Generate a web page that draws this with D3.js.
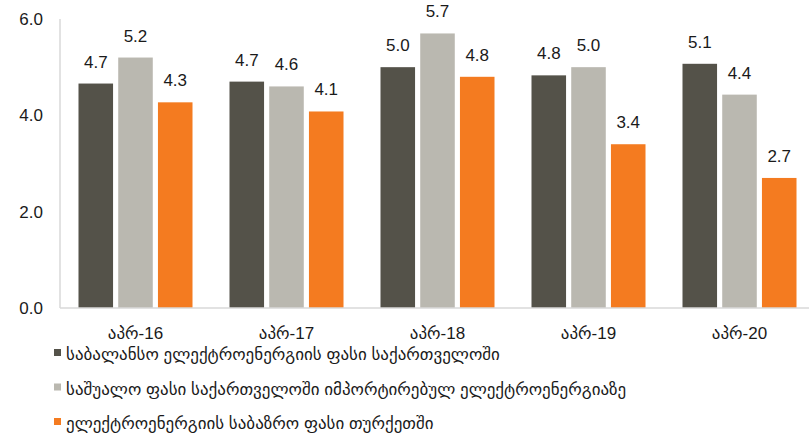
<!DOCTYPE html>
<html>
<head>
<meta charset="utf-8">
<script src="https://cdn.jsdelivr.net/npm/d3@7"></script>
<style>
  body { margin: 0; background: #fff; }
  svg text { font-family: "Liberation Sans", Arial, "DejaVu Sans", sans-serif; fill: #1a1a1a; }
</style>
</head>
<body>
<svg id="chart" width="809" height="441"></svg>
<script>
// data
var months = ["აპრ-16", "აპრ-17", "აპრ-18", "აპრ-19", "აპრ-20"];
var seriesNames = [
    "საბალანსო ელექტროენერგიის ფასი საქართველოში",
    "საშუალო ფასი საქართველოში იმპორტირებულ ელექტროენერგიაზე",
    "ელექტროენერგიის საბაზრო ფასი თურქეთში"
];
var balancePrice = [4.66, 4.7, 5.0, 4.83, 5.07];
var importPrice = [5.2, 4.6, 5.7, 5.0, 4.43];
var turkeyPrice = [4.27, 4.08, 4.8, 3.4, 2.7];
var yTicks = [0, 2, 4, 6];
var colors = ["#545249", "#bab8b0", "#f47b20"];

var svg = d3.select("#chart");
var plotLeft = 60, plotRight = 815, plotTop = 19, plotBottom = 308;

var x = d3.scaleBand().domain(months).range([plotLeft, plotRight]).paddingInner(0.245).paddingOuter(0.1225);
var x1 = d3.scaleBand().domain([0, 1, 2]).range([0, x.bandwidth()]).paddingInner(0.13);
var y = d3.scaleLinear().domain([0, 6]).range([plotBottom, plotTop]);

var series = [balancePrice, importPrice, turkeyPrice];

// y axis labels
svg.selectAll(".ytick").data(yTicks).enter().append("text")
    .attr("x", 43).attr("y", function(d){ return y(d) + 6; })
    .attr("text-anchor", "end").style("font-size", "17px")
    .text(function(d){ return d.toFixed(1); });

// axis lines
svg.append("line").attr("x1", plotLeft).attr("x2", plotLeft).attr("y1", plotTop).attr("y2", plotBottom)
    .attr("stroke", "#d9d9d9").attr("stroke-width", 1.5);

var groups = svg.selectAll(".grp").data(months).enter().append("g")
    .attr("transform", function(d){ return "translate(" + x(d) + ",0)"; });

function cells(d, i){ return series.map(function(s, k){ return {k: k, v: s[i]}; }); }

groups.selectAll("rect").data(cells).enter().append("rect")
    .attr("x", function(d){ return x1(d.k); })
    .attr("width", x1.bandwidth())
    .attr("y", function(d){ return y(d.v); })
    .attr("height", function(d){ return plotBottom - y(d.v); })
    .attr("fill", function(d){ return colors[d.k]; });

groups.selectAll(".lbl").data(cells).enter().append("text")
    .attr("x", function(d){ return x1(d.k) + x1.bandwidth() / 2; })
    .attr("y", function(d){ return y(d.v) - 16; })
    .attr("text-anchor", "middle").style("font-size", "17px")
    .text(function(d){ return d.v.toFixed(1); });

svg.append("line").attr("x1", plotLeft).attr("x2", 809).attr("y1", plotBottom).attr("y2", plotBottom)
    .attr("stroke", "#d9d9d9").attr("stroke-width", 1.5);

// x labels
svg.selectAll(".xl").data(months).enter().append("text")
    .attr("x", function(d){ return x(d) + x.bandwidth() / 2; })
    .attr("y", 339).attr("text-anchor", "middle").style("font-size", "17px")
    .text(function(d){ return d; });

// legend
var leg = svg.selectAll(".leg").data(seriesNames).enter().append("g")
    .attr("transform", function(d, i){ return "translate(54," + (360 + i * 34.5) + ")"; });
leg.append("rect").attr("x", 0).attr("y", -11).attr("width", 7).attr("height", 7)
    .attr("fill", function(d, i){ return colors[i]; });
leg.append("text").attr("x", 12).attr("y", 0).style("font-size", "17px")
    .text(function(d){ return d; });
</script>
</body>
</html>
